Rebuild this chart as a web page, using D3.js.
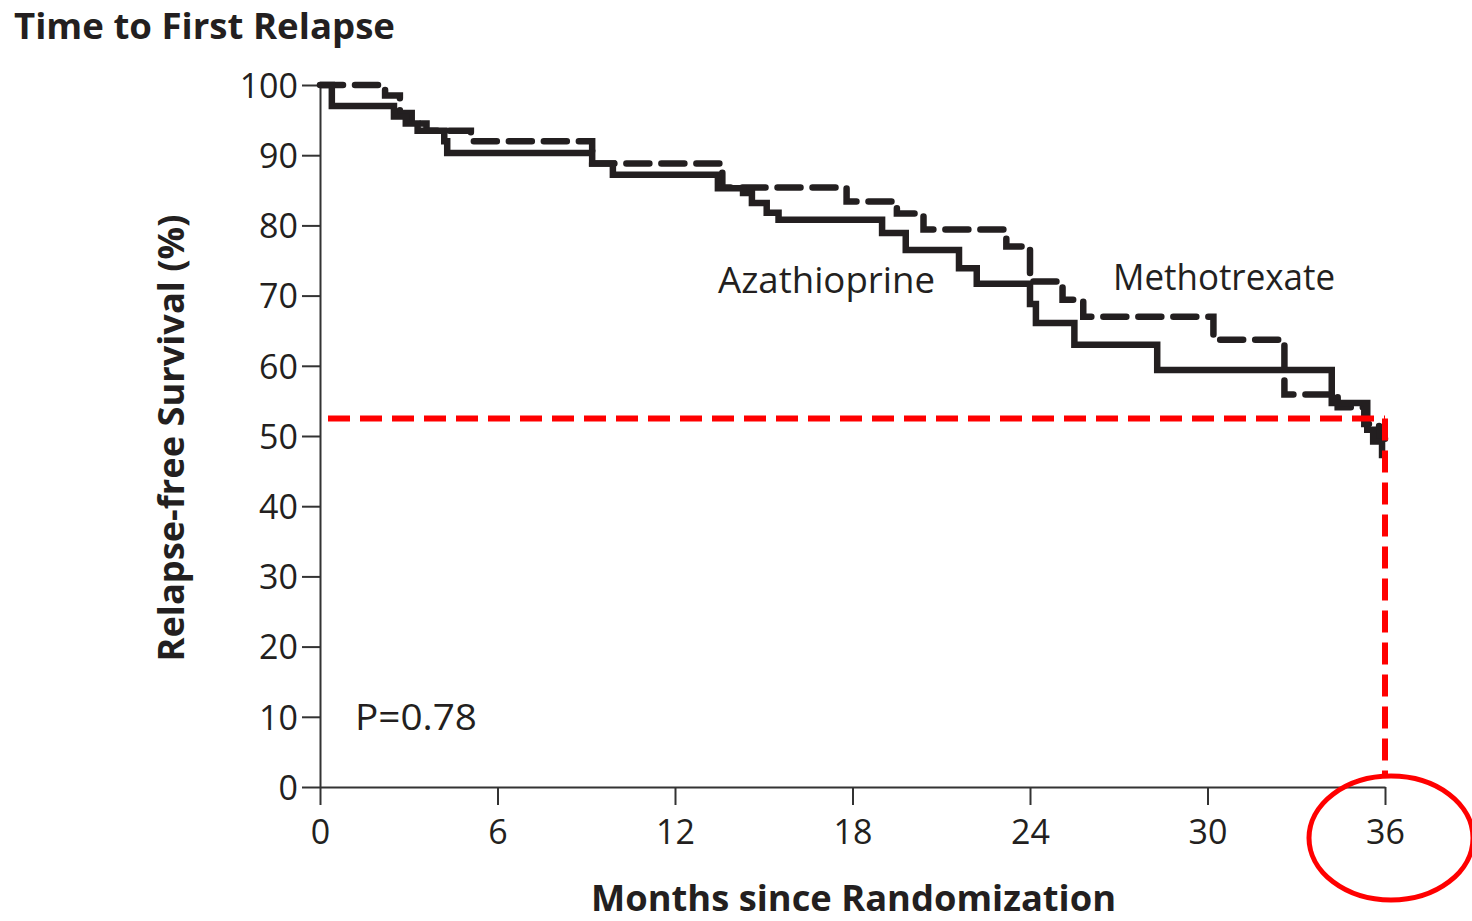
<!DOCTYPE html>
<html>
<head>
<meta charset="utf-8">
<script src="https://cdn.jsdelivr.net/npm/d3@7/dist/d3.min.js"></script>
<style>
  html, body { margin: 0; padding: 0; background: #ffffff; }
  svg { display: block; }
  text { font-family: "Open Sans", "Noto Sans", sans-serif; fill: #231f20; }
</style>
</head>
<body>
<svg id="chart" width="1472" height="921"></svg>
<script>
// Kaplan-Meier estimates, relapse-free survival (%) by months since randomization
const azaMonths   = [0, 0.4, 2.5, 2.9, 3.3, 4.2, 4.3, 9.2, 9.9, 13.45, 14.3, 14.6, 15.1, 15.5, 19.0, 19.8, 21.6, 22.2, 24.0, 24.2, 25.5, 28.3, 34.2, 35.4, 35.6, 35.9, 36];
const azaSurvival = [100, 97, 95.5, 94.5, 93.5, 92, 90.3, 88.8, 87.2, 85.3, 84.6, 83.2, 81.8, 80.8, 78.9, 76.5, 73.9, 71.7, 68.8, 66.1, 63.0, 59.4, 54.7, 50.9, 49.2, 47.3, 47.3];

const mtxMonths   = [0, 2.2, 2.7, 3.1, 3.6, 5.1, 9.2, 13.6, 17.8, 19.5, 20.4, 23.2, 24.0, 25.1, 25.8, 30.2, 32.6, 34.4, 35.3, 35.8, 36];
const mtxSurvival = [100, 98.5, 96, 94.5, 93.5, 92, 88.8, 85.4, 83.4, 81.7, 79.4, 77.0, 72.0, 69.4, 67.0, 63.7, 55.9, 54.1, 51.7, 49.6, 49.6];

const xTicks = [0, 6, 12, 18, 24, 30, 36];
const yTicks = [0, 10, 20, 30, 40, 50, 60, 70, 80, 90, 100];

// Highlighted reading: survival level at the end of follow-up
const refMonth = 36;
const refLevel = 52.5;

const svg = d3.select("#chart");
const ink = "#231f20";

const x = d3.scaleLinear().domain([0, 36]).range([320, 1385]);
const y = d3.scaleLinear().domain([0, 100]).range([787, 85]);

// Title
svg.append("text")
  .attr("x", 14).attr("y", 39)
  .attr("font-size", 36).attr("font-weight", 700)
  .attr("textLength", 381).attr("lengthAdjust", "spacingAndGlyphs")
  .text("Time to First Relapse");

// Axes
const yAxis = d3.axisLeft(y).tickValues(yTicks).tickSize(18).tickSizeOuter(0).tickPadding(4);
const xAxis = d3.axisBottom(x).tickValues(xTicks).tickSize(18).tickSizeOuter(0).tickPadding(15);

const gy = svg.append("g").attr("transform", `translate(${x(0)},0)`).call(yAxis);
const gx = svg.append("g").attr("transform", `translate(0,${y(0)})`).call(xAxis);

[gx, gy].forEach(g => {
  g.selectAll("path.domain").attr("stroke", "#333").attr("stroke-width", 2);
  g.selectAll(".tick line").attr("stroke", "#333").attr("stroke-width", 2);
  g.selectAll(".tick text")
    .attr("font-family", '"Open Sans", "Noto Sans", sans-serif')
    .attr("font-size", 34).attr("fill", ink);
});
gy.selectAll(".tick text").attr("dy", "0.36em");

// Axis titles
svg.append("text")
  .attr("transform", `translate(184,${(y(0) + y(100)) / 2 + 2}) rotate(-90)`)
  .attr("text-anchor", "middle")
  .attr("font-size", 35).attr("font-weight", 700)
  .attr("textLength", 447).attr("lengthAdjust", "spacingAndGlyphs")
  .text("Relapse-free Survival (%)");

svg.append("text")
  .attr("x", (x(0) + x(36)) / 2 + 1).attr("y", 911)
  .attr("text-anchor", "middle")
  .attr("font-size", 35).attr("font-weight", 700)
  .attr("textLength", 525).attr("lengthAdjust", "spacingAndGlyphs")
  .text("Months since Randomization");

// Survival curves
const step = d3.line()
  .x(d => x(d[0]))
  .y(d => y(d[1]))
  .curve(d3.curveStepAfter);

const aza = azaMonths.map((m, i) => [m, azaSurvival[i]]);
const mtx = mtxMonths.map((m, i) => [m, mtxSurvival[i]]);

svg.append("path")
  .attr("d", step(mtx))
  .attr("fill", "none").attr("stroke", ink)
  .attr("stroke-width", 6.5)
  .attr("stroke-dasharray", "23,12")
  .attr("stroke-linecap", "round");

svg.append("path")
  .attr("d", step(aza))
  .attr("fill", "none").attr("stroke", ink)
  .attr("stroke-width", 6.5);

// Curve labels
svg.append("text").attr("x", 718).attr("y", 293)
  .attr("font-size", 37).attr("textLength", 217).attr("lengthAdjust", "spacingAndGlyphs")
  .text("Azathioprine");
svg.append("text").attr("x", 1113).attr("y", 290)
  .attr("font-size", 37).attr("textLength", 222).attr("lengthAdjust", "spacingAndGlyphs")
  .text("Methotrexate");
svg.append("text").attr("x", 355).attr("y", 730)
  .attr("font-size", 36).attr("textLength", 122).attr("lengthAdjust", "spacingAndGlyphs")
  .text("P=0.78");

// Red reading guide: level line, drop line and circled tick
const red = "#ff0000";
const ellipse = { cx: x(refMonth) + 6, cy: y(0) + 51, rx: 82, ry: 62 };

svg.append("line")
  .attr("x1", x(0) + 8).attr("x2", x(refMonth))
  .attr("y1", y(refLevel)).attr("y2", y(refLevel))
  .attr("stroke", red).attr("stroke-width", 6)
  .attr("stroke-dasharray", "22,10");

svg.append("line")
  .attr("x1", x(refMonth)).attr("x2", x(refMonth))
  .attr("y1", y(refLevel)).attr("y2", ellipse.cy - ellipse.ry)
  .attr("stroke", red).attr("stroke-width", 6)
  .attr("stroke-dasharray", "22,10");

svg.append("ellipse")
  .attr("cx", ellipse.cx).attr("cy", ellipse.cy)
  .attr("rx", ellipse.rx).attr("ry", ellipse.ry)
  .attr("fill", "none").attr("stroke", red).attr("stroke-width", 5);
</script>
</body>
</html>
